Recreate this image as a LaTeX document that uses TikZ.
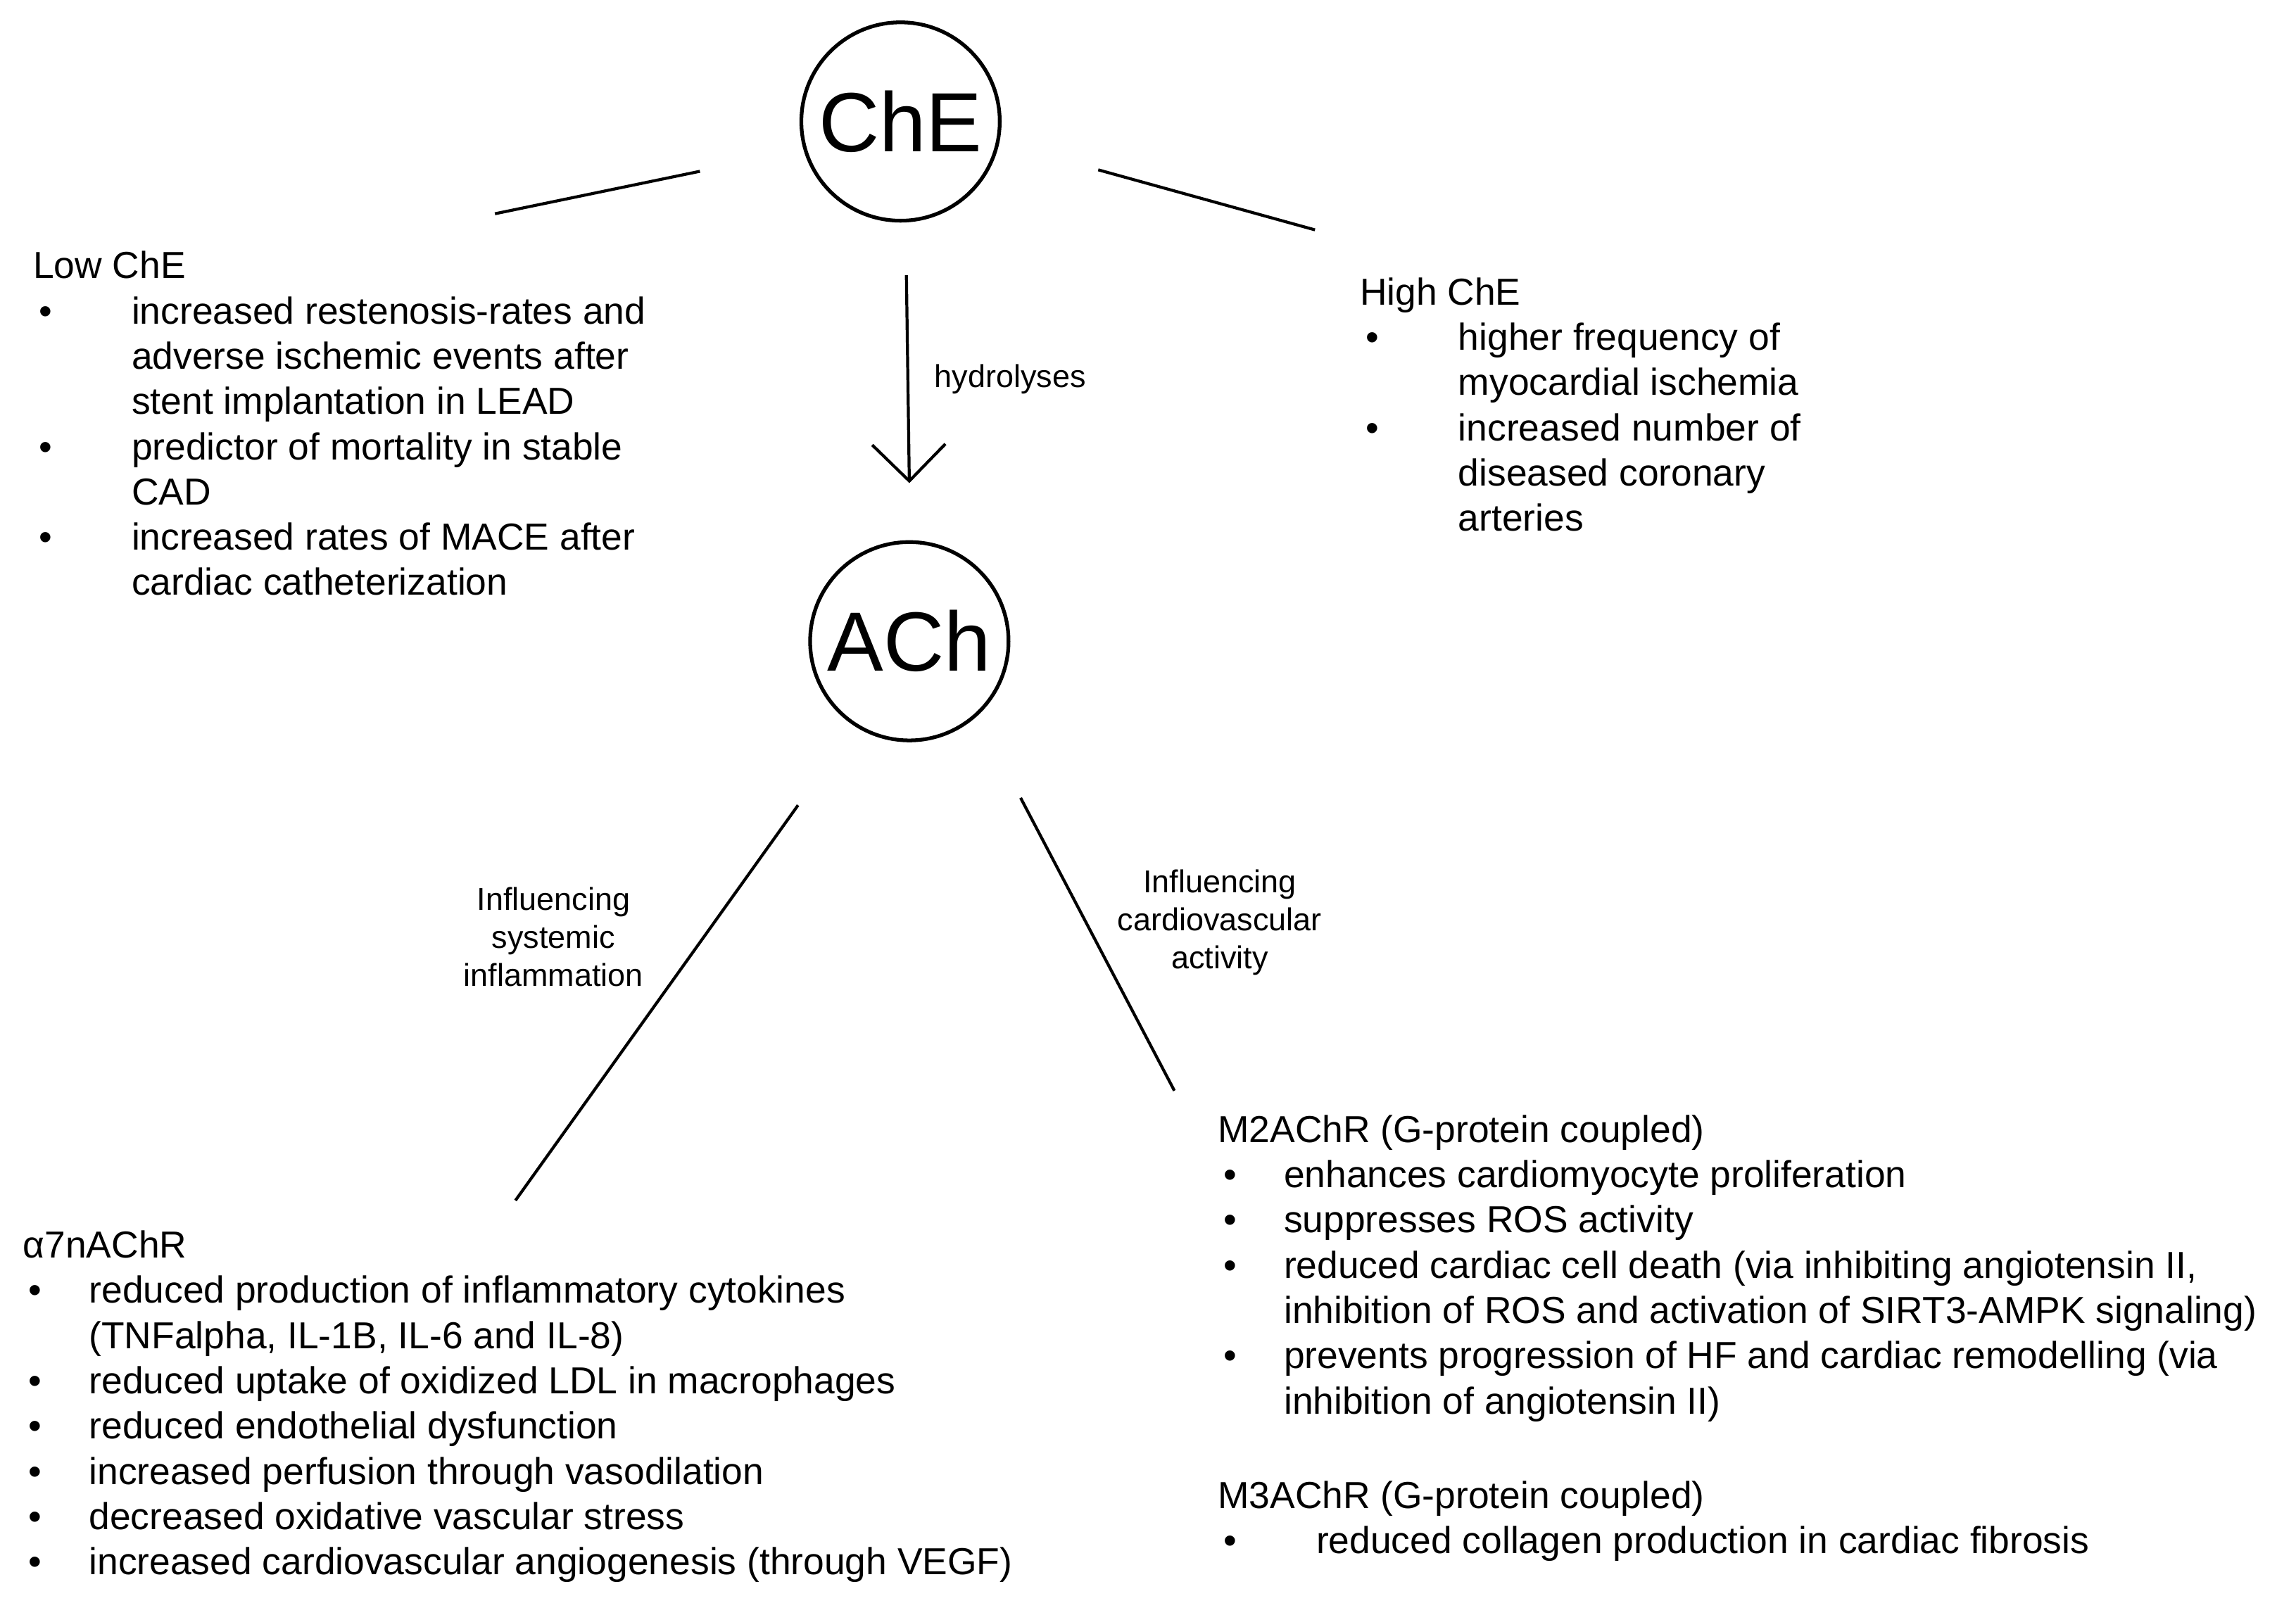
\documentclass[tikz,border=0pt]{standalone}
\usepackage{fontspec}
\setmainfont{Liberation Sans}
\usetikzlibrary{arrows.meta}
\newcommand{\bl}[1]{\makebox[#1][l]{\hspace*{0.04cm}\textbullet}}
\newcommand{\ind}[1]{\hspace*{#1}}
\tikzset{
  mol/.style={draw,shape=circle,line width=0.75pt,minimum size=1.41cm,inner sep=0pt,font=\fontsize{17}{20}\selectfont},
  txt/.style={anchor=north west,align=left,inner sep=0pt,font=\fontsize{7.6}{9.15}\selectfont},
  lab/.style={align=center,inner sep=0pt,font=\fontsize{6.4}{7.7}\selectfont},
  ln/.style={line width=0.6pt}
}
\begin{document}
\begin{tikzpicture}[x=0.0104cm,y=-0.0104cm]
\useasboundingbox (0,0) rectangle (1568,1103);
\path (615,83) node[mol] (ChE) {ChE};
\path (621,438) node[mol] (ACh) {ACh};

\coordinate (l1) at (338,146); \coordinate (l2) at (478,117);
\coordinate (r1) at (750,116); \coordinate (r2) at (898,157);
\coordinate (h1) at (619,188); \coordinate (h2) at (621,330);
\coordinate (s1) at (545,550); \coordinate (s2) at (352,820);
\coordinate (c1) at (697,545); \coordinate (c2) at (802,745);

\path[ln] (l1) edge (l2);
\path[ln] (r1) edge (r2);
\path[ln,-{Straight Barb[length=2.6mm,width=5.2mm]}] (h1) edge node[right=0.18cm,lab] {hydrolyses} (h2);
\path[ln] (s1) edge (s2);
\path[ln] (c1) edge (c2);

\path (378,640) node[lab] (infl) {Influencing\\systemic\\inflammation};
\path (833,630) node[lab] (card) {Influencing\\cardiovascular\\activity};

\path (22,171) node[txt] (low) {Low ChE\\
\bl{0.7cm}increased restenosis-rates and\\
\ind{0.7cm}adverse ischemic events after\\
\ind{0.7cm}stent implantation in LEAD\\
\bl{0.7cm}predictor of mortality in stable\\
\ind{0.7cm}CAD\\
\bl{0.7cm}increased rates of MACE after\\
\ind{0.7cm}cardiac catheterization};

\path (928,189) node[txt] (high) {High ChE\\
\bl{0.7cm}higher frequency of\\
\ind{0.7cm}myocardial ischemia\\
\bl{0.7cm}increased number of\\
\ind{0.7cm}diseased coronary\\
\ind{0.7cm}arteries};

\path (15,840) node[txt] (a7) {α7nAChR\\
\bl{0.47cm}reduced production of inflammatory cytokines\\
\ind{0.47cm}(TNFalpha, IL-1B, IL-6 and IL-8)\\
\bl{0.47cm}reduced uptake of oxidized LDL in macrophages\\
\bl{0.47cm}reduced endothelial dysfunction\\
\bl{0.47cm}increased perfusion through vasodilation\\
\bl{0.47cm}decreased oxidative vascular stress\\
\bl{0.47cm}increased cardiovascular angiogenesis (through VEGF)};

\path (831,761) node[txt] (m2) {M2AChR (G-protein coupled)\\
\bl{0.47cm}enhances cardiomyocyte proliferation\\
\bl{0.47cm}suppresses ROS activity\\
\bl{0.47cm}reduced cardiac cell death (via inhibiting angiotensin II,\\
\ind{0.47cm}inhibition of ROS and activation of SIRT3-AMPK signaling)\\
\bl{0.47cm}prevents progression of HF and cardiac remodelling (via\\
\ind{0.47cm}inhibition of angiotensin II)};

\path (831,1011) node[txt] (m3) {M3AChR (G-protein coupled)\\
\bl{0.7cm}reduced collagen production in cardiac fibrosis};
\end{tikzpicture}
\end{document}
